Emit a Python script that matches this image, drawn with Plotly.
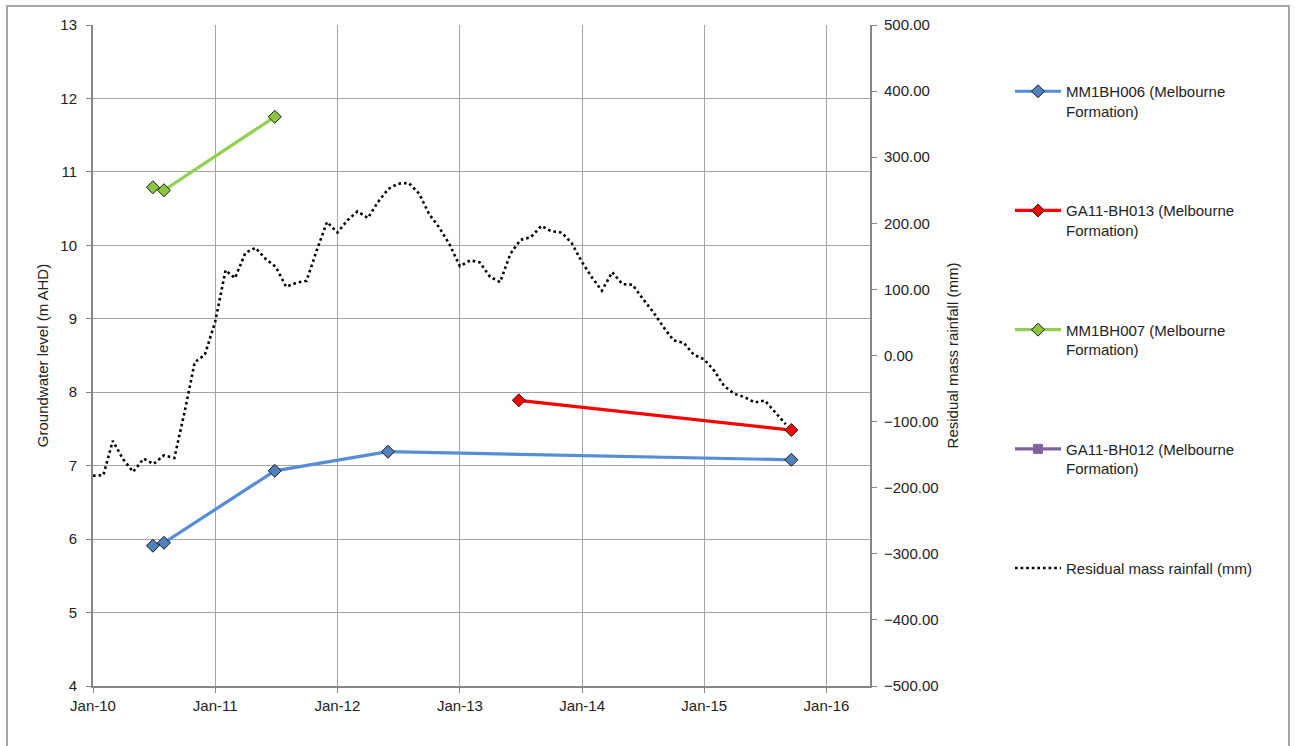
import plotly.graph_objects as go
import pandas as pd

# ---- data ----
mm1bh006_dates = ["2010-06-29", "2010-08-01", "2011-06-28", "2012-05-31", "2015-09-18"]
mm1bh006_level = [5.91, 5.95, 6.93, 7.19, 7.08]

ga11bh013_dates = ["2013-06-26", "2015-09-18"]
ga11bh013_level = [7.89, 7.485]

mm1bh007_dates = ["2010-06-29", "2010-08-01", "2011-06-28"]
mm1bh007_level = [10.79, 10.75, 11.75]

ga11bh012_dates = [None]
ga11bh012_level = [None]

rain_start = "2010-01-01"
residual_rain = [
    -182, -181, -129, -157, -176, -156, -164, -151, -155, -87, -10, 1,
    51, 129, 117, 155, 163, 146, 134, 104, 110, 113, 160, 202,
    186, 205, 218, 208, 232, 252, 260, 261, 245, 214, 193, 168,
    135, 144, 141, 119, 111, 154, 175, 179, 196, 188, 186, 170,
    141, 117, 98, 126, 108, 107, 86, 66, 43, 23, 19, 1,
    -6, -24, -46, -58, -63, -71, -68, -86, -104,
]
rain_dates = pd.date_range(rain_start, periods=len(residual_rain), freq="MS")

x_ticks = pd.date_range("2010-01-01", "2016-01-01", freq="YS")
x_range = ["2010-01-01", "2016-05-10"]
left_range = [4, 13]
right_range = [-500, 500]

# ---- figure ----
W, H = 1295, 746
L, R, T, B = 93, 870, 25, 686

fig = go.Figure()

blue_line = "#558ED5"
blue = "#4F81BD"
red = "#FF0000"
green = "#92D050"
purple = "#8064A2"

fig.add_trace(go.Scatter(
    x=mm1bh006_dates, y=mm1bh006_level, name="MM1BH006 (Melbourne<br>Formation)",
    mode="lines+markers", legendgroup="a",
    line=dict(color=blue_line, width=3.2),
    marker=dict(symbol="diamond", size=10, color=blue, line=dict(color="#1a1a1a", width=1)),
))
fig.add_trace(go.Scatter(
    x=ga11bh013_dates, y=ga11bh013_level, name="GA11-BH013 (Melbourne<br>Formation)",
    mode="lines+markers", legendgroup="b",
    line=dict(color=red, width=3.2),
    marker=dict(symbol="diamond", size=10, color=red, line=dict(color="#1a1a1a", width=1)),
))
fig.add_trace(go.Scatter(
    x=mm1bh007_dates, y=mm1bh007_level, name="MM1BH007 (Melbourne<br>Formation)",
    mode="lines+markers", legendgroup="c",
    line=dict(color=green, width=3.2),
    marker=dict(symbol="diamond", size=10, color="#8CC63F", line=dict(color="#1a1a1a", width=1)),
))
fig.add_trace(go.Scatter(
    x=ga11bh012_dates, y=ga11bh012_level, name="GA11-BH012 (Melbourne<br>Formation)",
    mode="lines+markers", legendgroup="d",
    line=dict(color=purple, width=3.2),
    marker=dict(symbol="square", size=9, color=purple, line=dict(color=purple, width=1)),
))
fig.add_trace(go.Scatter(
    x=rain_dates, y=residual_rain, name="Residual mass rainfall (mm)",
    mode="lines", legendgroup="e", yaxis="y2",
    line=dict(color="black", width=2.6, dash="2.6px,3px"),
))

grid = "#a6a6a6"
axcol = "#868686"
fam = "Liberation Sans, Arial, sans-serif"
tickfont = dict(family=fam, size=15, color="#222222")

fig.update_layout(
    width=W, height=H,
    margin=dict(l=L, r=W - R, t=T, b=H - B, autoexpand=False),
    paper_bgcolor="white", plot_bgcolor="white",
    font=dict(family=fam, size=15, color="#222222"),
    showlegend=True,
    legend=dict(
        x=(1010 - L) / (R - L), y=1 - (75 - T) / (B - T), xanchor="left", yanchor="top",
        valign="top", tracegroupgap=77.2, itemwidth=46, bgcolor="rgba(0,0,0,0)",
        font=dict(family=fam, size=15, color="#222222"),
    ),
    xaxis=dict(
        type="date", range=x_range, tickmode="array", tickvals=x_ticks, tickformat="%b-%y",
        showgrid=True, gridcolor=grid, gridwidth=1.3,
        showline=True, linecolor=axcol, linewidth=2,
        ticks="outside", ticklen=5, tickcolor=axcol, tickfont=tickfont,
        ticklabelstandoff=0, zeroline=False,
    ),
    yaxis=dict(
        range=left_range, dtick=1, tick0=4,
        title=dict(text="Groundwater level (m AHD)", standoff=8,
                   font=dict(family=fam, size=15, color="#222222")),
        showgrid=True, gridcolor=grid, gridwidth=1.3,
        showline=True, linecolor=axcol, linewidth=2,
        ticks="outside", ticklen=5, tickcolor=axcol, tickfont=tickfont,
        ticklabelstandoff=6, zeroline=False,
    ),
    yaxis2=dict(
        range=right_range, dtick=100, tick0=-500, tickformat=".2f",
        overlaying="y", side="right",
        title=dict(text="Residual mass rainfall (mm)", standoff=10,
                   font=dict(family=fam, size=15, color="#222222")),
        showgrid=False,
        showline=True, linecolor=axcol, linewidth=2,
        ticks="outside", ticklen=5, tickcolor=axcol, tickfont=tickfont,
        ticklabelstandoff=4, zeroline=False,
    ),
    shapes=[
        dict(type="rect", xref="paper", yref="paper",
             x0=(7 - L) / (R - L), x1=(1289 - L) / (R - L),
             y0=1 - (760 - T) / (B - T), y1=1 + (T - 6) / (B - T),
             line=dict(color="#a6a6a6", width=2), fillcolor="rgba(0,0,0,0)", layer="below"),
    ],
)

fig.write_html(
    "out.html",
    config={"displayModeBar": False},
    post_script="document.body.style.margin='0';document.body.style.overflow='hidden';",
)
